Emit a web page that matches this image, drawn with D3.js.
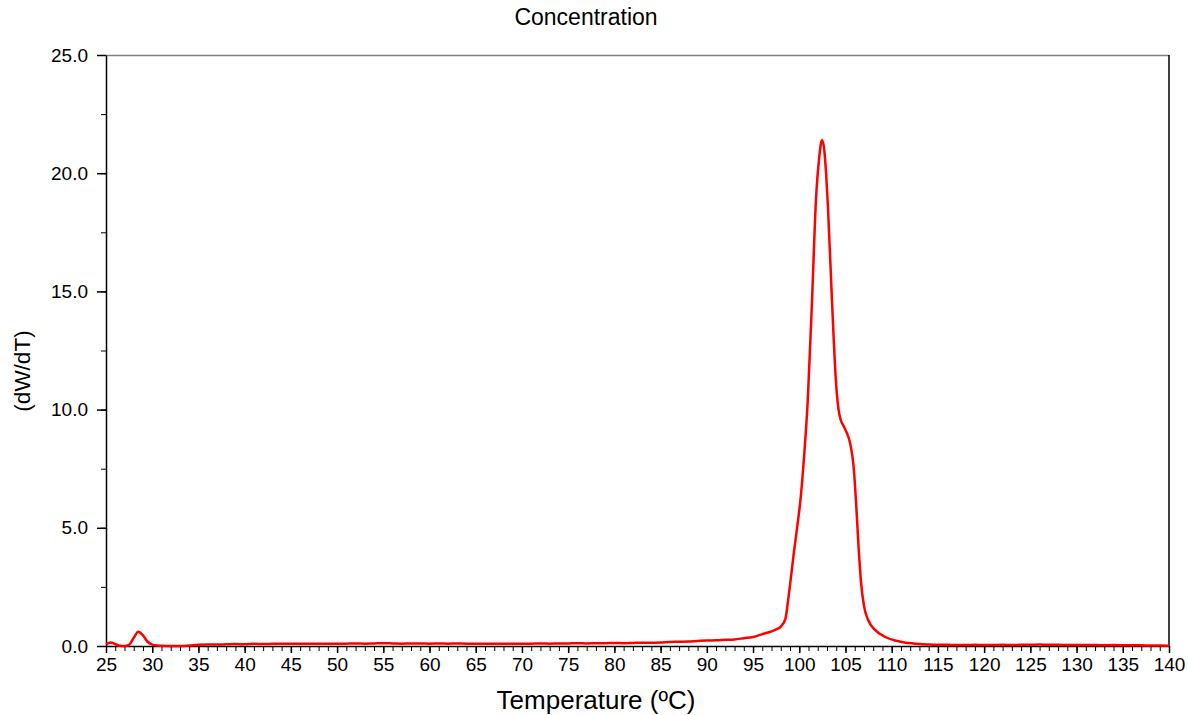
<!DOCTYPE html>
<html>
<head>
<meta charset="utf-8">
<script src="https://cdn.jsdelivr.net/npm/d3@7"></script>
<style>
  body { margin: 0; background: #fff; }
  text { font-family: "Liberation Sans", Arial, sans-serif; fill: #000; }
</style>
</head>
<body>
<div id="chart_div"></div>
<script>
// temperature (ºC) and dW/dT
var temps = [25.0, 25.5, 26.0, 26.5, 27.0, 27.5, 28.0, 28.5, 29.0, 29.5, 30.0, 30.5, 31, 32, 33, 34,
  35, 36, 37, 38, 39, 40, 41, 42, 43, 44, 45, 46, 47, 48, 49, 50, 51, 52, 53, 54, 55, 56, 57, 58, 59,
  60, 61, 62, 63, 64, 65, 66, 67, 68, 69, 70, 71, 72, 73, 74, 75, 76, 77, 78, 79, 80, 81, 82, 83, 84,
  85, 86, 87, 88, 89, 90, 91, 92, 93, 94, 95, 96, 97, 97.5, 98.0, 98.5, 98.8, 99.1, 99.45, 99.8,
  100.16, 100.5, 100.92, 101.38, 101.81, 102.14, 102.46, 102.7, 102.9, 103.1, 103.54, 104.0, 104.25, 104.5,
  104.8, 105.1, 105.49, 105.92, 106.14, 106.43, 106.68, 107.0, 107.45, 108.2, 109.3, 110.5, 111.5,
  112.5, 113, 114, 115, 116, 117, 118, 119, 120, 121, 122, 123, 124, 125, 126, 127, 128, 129, 130,
  131, 132, 133, 134, 135, 136, 137, 138, 139, 140];
var dwdt = [0.08, 0.15, 0.08, 0.01, 0.0, 0.05, 0.35, 0.6, 0.45, 0.18, 0.06, 0.02, 0.01, 0.0, 0.0, 0.02,
  0.05, 0.06, 0.06, 0.07, 0.08, 0.07, 0.09, 0.08, 0.09, 0.10, 0.09, 0.10, 0.09, 0.10, 0.10, 0.09, 0.10, 0.11, 0.10, 0.11, 0.12, 0.11, 0.10, 0.11, 0.11,
  0.10, 0.11, 0.10, 0.11, 0.10, 0.10, 0.09, 0.10, 0.10, 0.09, 0.10, 0.10, 0.11, 0.10, 0.11, 0.11, 0.12, 0.11, 0.12, 0.12, 0.13, 0.12, 0.13, 0.14, 0.14,
  0.15, 0.17, 0.18, 0.19, 0.21, 0.23, 0.24, 0.26, 0.28, 0.33, 0.38, 0.5, 0.62, 0.7, 0.82, 1.15, 1.95, 2.9, 4.06, 5.1,
  6.3, 7.9, 10.4, 14.6, 18.9, 20.6, 21.4, 21.0, 20.0, 18.6, 14.6, 11.0, 10.0, 9.55,
  9.3, 9.05, 8.6, 7.4, 6.1, 4.1, 2.7, 1.7, 1.1, 0.68, 0.38, 0.22, 0.14,
  0.10, 0.08, 0.06, 0.05, 0.05, 0.04, 0.04, 0.05, 0.04, 0.04, 0.05, 0.04, 0.05, 0.05, 0.06, 0.05, 0.05, 0.04, 0.04,
  0.04, 0.04, 0.03, 0.04, 0.03, 0.03, 0.03, 0.02, 0.02, 0.01];
var xMajor = d3.range(25, 141, 5);
var xMinor = d3.range(25, 141, 1);
var yMajor = [0, 5, 10, 15, 20, 25];
var yMinor = d3.range(0, 25.1, 2.5);

function makeChart() {
  var data = temps.map(function (t, i) { return { t: t, v: dwdt[i] }; });

  const W = 1188, H = 715;
  const pLeft = 106, pRight = 1169, pTop = 55, pBottom = 646;

  var xScale = d3.scaleLinear().domain([25, 140]).range([pLeft, pRight]);
  var yScale = d3.scaleLinear().domain([0, 25]).range([pBottom, pTop]);

  var svg = d3.select('#chart_div').append('svg')
      .attr('width', W)
      .attr('height', H);

  // frame: grey top, black right
  svg.append('line')
    .attr('x1', pLeft).attr('x2', pRight).attr('y1', pTop + 0.5).attr('y2', pTop + 0.5)
    .attr('stroke', '#808080').attr('stroke-width', 1.5);
  svg.append('line')
    .attr('x1', pRight).attr('x2', pRight).attr('y1', pTop).attr('y2', pBottom)
    .attr('stroke', '#000').attr('stroke-width', 1.5);

  // minor ticks
  svg.append('g')
    .attr('transform', `translate(0, ${pBottom})`)
    .call(d3.axisBottom(xScale).tickValues(xMinor).tickSize(5).tickFormat(''))
    .call(function (g) { g.select('.domain').remove(); g.selectAll('line').attr('stroke-width', 1); });
  svg.append('g')
    .attr('transform', `translate(${pLeft}, 0)`)
    .call(d3.axisLeft(yScale).tickValues(yMinor).tickSize(5).tickFormat(''))
    .call(function (g) { g.select('.domain').remove(); g.selectAll('line').attr('stroke-width', 1); });

  // major ticks + labels
  var xAxis = svg.append('g')
    .attr('transform', `translate(0, ${pBottom})`)
    .call(d3.axisBottom(xScale).tickValues(xMajor).tickSize(7).tickSizeOuter(0).tickPadding(5).tickFormat(d3.format('d')));
  xAxis.select('.domain').attr('stroke-width', 1.5);
  xAxis.selectAll('line').attr('stroke-width', 1.5);
  xAxis.selectAll('text').style('font-size', '19px');

  var yAxis = svg.append('g')
    .attr('transform', `translate(${pLeft}, 0)`)
    .call(d3.axisLeft(yScale).tickValues(yMajor).tickSize(9).tickSizeOuter(0).tickPadding(9).tickFormat(d3.format('.1f')));
  yAxis.select('.domain').attr('stroke-width', 1.5);
  yAxis.selectAll('line').attr('stroke-width', 1.5);
  yAxis.selectAll('text').style('font-size', '19px');

  // curve
  var valueLine = d3.line()
    .curve(d3.curveMonotoneX)
    .x(function (d) { return xScale(d.t); })
    .y(function (d) { return yScale(d.v); });

  svg.append('path')
    .datum(data)
    .attr('fill', 'none')
    .attr('stroke', '#ff0000')
    .attr('stroke-width', 2.5)
    .attr('stroke-linejoin', 'round')
    .attr('d', valueLine);

  // titles
  svg.append('text')
    .attr('x', 586).attr('y', 25)
    .attr('text-anchor', 'middle')
    .style('font-size', '23px')
    .text('Concentration');

  svg.append('text')
    .attr('x', 596).attr('y', 709)
    .attr('text-anchor', 'middle')
    .style('font-size', '26px')
    .text('Temperature (ºC)');

  svg.append('text')
    .attr('transform', 'translate(30, 371) rotate(-90)')
    .attr('text-anchor', 'middle')
    .style('font-size', '22.5px')
    .text('(dW/dT)');
}

makeChart();
</script>
</body>
</html>
